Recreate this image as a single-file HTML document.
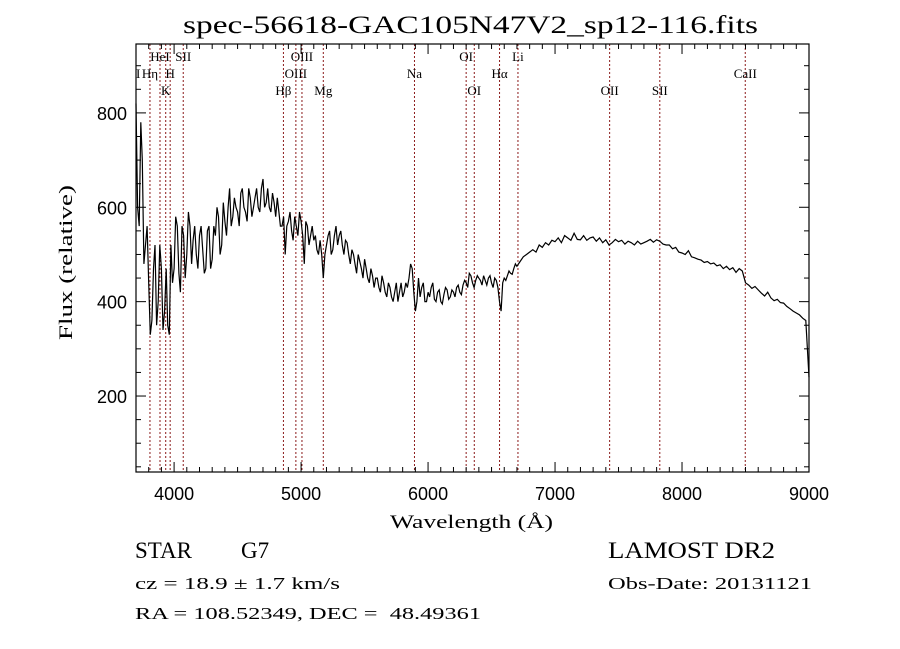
<!DOCTYPE html>
<html><head><meta charset="utf-8"><style>
html,body{margin:0;padding:0;background:#fff;}
svg{display:block;}
.sf{font-family:"Liberation Serif",serif;fill:#000;white-space:pre;}
.ss{font-family:"Liberation Sans",sans-serif;fill:#000;}
</style></head><body>
<svg id="chart" width="900" height="649" viewBox="0 0 900 649"></svg>
<script>
const waveStart = 3700;
const waveStep = 25;
const flux = [820,560,700,520,440,360,520,400,470,380,350,520,470,560,420,540,500,560,530,500,540,510,470,560,490,540,580,520,570,600,560,620,590,630,600,570,620,600,640,590,660,610,600,630,580,590,560,500,570,550,580,540,570,480,560,540,530,510,530,450,520,550,510,560,540,520,530,500,510,480,500,470,490,450,470,430,450,420,440,410,430,400,440,420,410,440,450,470,380,450,430,400,420,430,405,420,400,415,425,410,420,430,420,435,440,460,440,445,450,435,445,450,440,450,430,380,450,455,460,470,475,485,495,500,505,510,505,520,515,525,520,530,527,535,525,540,535,530,545,532,531,540,530,535,537,528,535,525,531,520,525,532,527,530,522,528,525,520,528,522,525,528,532,526,531,528,522,520,520,512,515,505,503,500,508,495,493,490,488,483,485,480,482,476,478,470,475,468,472,462,470,465,440,435,428,432,425,418,412,420,408,402,405,398,397,390,385,380,376,372,365,360,240];
// flux at midpoints (w + 12.5 Å) for 3712.5 ... 6687.5
const fluxMid = [600,780,480,560,330,470,350,520,340,470,330,440,580,460,560,450,590,480,560,470,560,460,550,470,560,600,500,610,540,640,580,600,560,640,590,640,580,620,600,640,600,640,590,610,620,560,580,560,590,530,560,590,540,570,520,560,540,500,500,500,540,500,540,520,550,500,525,480,500,460,485,450,470,440,455,450,430,455,420,440,410,420,400,440,420,430,480,420,400,410,440,400,410,440,400,425,395,430,405,425,410,435,415,445,430,455,430,455,445,455,435,455,430,445,400,440,445,465,458,480];
const lineWaves = [3810,3889,3934,3969,4072,4861,4959,5007,5175,5893,6300,6364,6563,6708,7430,7825,8498];
const lineLabels = ["Hη","HeI","K","H","SII","Hβ","OIII","OIII","Mg","Na","OI","OI","Hα","Li","OII","SII","CaII"];
const lineRows = [1,0,2,1,0,2,1,0,2,1,0,2,1,0,2,2,1];
const xTicks = [4000,5000,6000,7000,8000,9000];
const yTicks = [200,400,600,800];

const L=136,R=809,T=44,B=472, XMIN=3700,XMAX=9000,YMIN=39,YMAX=946;
const X=w=>L+(w-XMIN)/(XMAX-XMIN)*(R-L);
const Y=f=>B-(f-YMIN)/(YMAX-YMIN)*(B-T);
const svg=document.getElementById('chart');
const NS='http://www.w3.org/2000/svg';
function mk(tag,at,txt){const e=document.createElementNS(NS,tag);for(const k in at)e.setAttribute(k,at[k]);if(txt!==undefined)e.textContent=txt;svg.appendChild(e);return e;}

// emission lines
lineWaves.forEach((w,i)=>{
  const x=X(w);
  const ln=mk('line',{x1:x,x2:x,y1:T,y2:B,stroke:'#8b1a1a','stroke-width':1,'stroke-dasharray':'2,2'});
  
  
  const ty=[61,78,95][lineRows[i]];
  const t=mk('text',{x:x,y:ty,'text-anchor':'middle','font-size':13,class:'sf'},lineLabels[i]);
  
  
});
const tI=mk('text',{x:136,y:78,'font-size':13,class:'sf'},'I');



// spectrum
const pts=[];
flux.forEach((f,i)=>{
  pts.push([waveStart+waveStep*i,f]);
  if(i<fluxMid.length) pts.push([waveStart+waveStep*i+waveStep/2,fluxMid[i]]);
});
let d='';
pts.forEach((p,i)=>{d+=(i?'L':'M')+X(p[0]).toFixed(1)+','+Y(p[1]).toFixed(1);});
const sp=mk('path',{d:d,fill:'none',stroke:'#000','stroke-width':1.2});



// frame
const fr=mk('rect',{x:L,y:T,width:R-L,height:B-T,fill:'none',stroke:'#000','stroke-width':1.2});



// x ticks
for(let w=3800;w<=9000;w+=100){
  const x=X(w),maj=w%1000===0,len=maj?10:5;
  mk('line',{x1:x,x2:x,y1:B,y2:B-len,stroke:'#000'});
  mk('line',{x1:x,x2:x,y1:T,y2:T+len,stroke:'#000'});
}
xTicks.forEach(w=>{
  const t=mk('text',{x:X(w),y:500,'text-anchor':'middle','font-size':18,class:'ss'},String(w));
  
  
});
// y ticks
for(let f=50;f<=900;f+=50){
  const y=Y(f),maj=f%200===0,len=maj?10:5;
  mk('line',{x1:L,x2:L+len,y1:y,y2:y,stroke:'#000'});
  mk('line',{x1:R,x2:R-len,y1:y,y2:y,stroke:'#000'});
}
yTicks.forEach(f=>{
  const t=mk('text',{x:127,y:Y(f)+7,'text-anchor':'end','font-size':18,class:'ss'},String(f));
  
  
});
</script>
<svg width="900" height="649" style="position:absolute;left:0;top:0">
<text x="183" y="33" font-size="25" class="sf" textLength="575" lengthAdjust="spacingAndGlyphs">spec-56618-GAC105N47V2_sp12-116.fits</text>
<text x="390" y="528" font-size="19" class="sf" textLength="163" lengthAdjust="spacingAndGlyphs">Wavelength (Å)</text>
<text transform="translate(72,340) rotate(-90)" font-size="19" class="sf" textLength="155" lengthAdjust="spacingAndGlyphs">Flux (relative)</text>
<text x="135" y="558" font-size="23" class="sf">STAR</text>
<text x="241" y="558" font-size="23" class="sf">G7</text>
<text x="135" y="589" font-size="17" class="sf" textLength="205" lengthAdjust="spacingAndGlyphs">cz = 18.9 ± 1.7 km/s</text>
<text x="135" y="619" font-size="17" class="sf" textLength="346" lengthAdjust="spacingAndGlyphs">RA = 108.52349, DEC =  48.49361</text>
<text x="608" y="558" font-size="23" class="sf" textLength="167" lengthAdjust="spacingAndGlyphs">LAMOST DR2</text>
<text x="608" y="589" font-size="17" class="sf" textLength="204" lengthAdjust="spacingAndGlyphs">Obs-Date: 20131121</text>
</svg>
</body></html>
